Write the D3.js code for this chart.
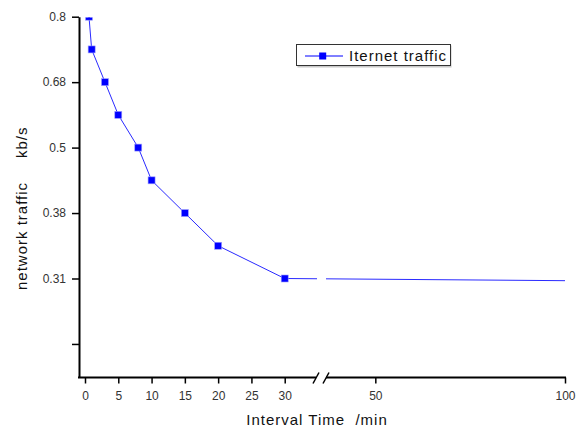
<!DOCTYPE html>
<html>
<head>
<meta charset="utf-8">
<script src="https://cdn.jsdelivr.net/npm/d3@7"></script>
<style>
  html, body { margin: 0; padding: 0; background: #fff; }
  svg { display: block; font-family: "Liberation Sans", Arial, sans-serif; }
</style>
</head>
<body>
<svg id="chart" width="582" height="430"></svg>
<script>
// ---- data ----
const intervals = [0.6, 1, 3, 5, 8, 10, 15, 20, 30];
const traffic   = [0.8, 0.74, 0.68, 0.59, 0.5, 0.44, 0.38, 0.345, 0.31];
const tailInterval = [30, 100];
const tailTraffic  = [0.31, 0.308];
const xTicksLeft  = [0, 5, 10, 15, 20, 25, 30];
const xTicksRight = [50, 100];
const yTickValues = [0.8, 0.68, 0.5, 0.38, 0.31, 0.25];
const yTickLabels = ["0.8", "0.68", "0.5", "0.38", "0.31", ""];
const seriesName = "Iternet traffic";
const xTitle = "Interval Time  /min";
const yTitleMain = "network traffic";
const yTitleUnit = "kb/s";

// ---- layout ----
const svg = d3.select("#chart");
const plotLeft = 79, plotTop = 16.7, plotBottom = 377.5, plotRight = 565;
const breakL = 316, breakR = 326;
const yStep = 65.45;

// broken x scale: [0,35] | [37,100]
const x = d3.scaleLinear()
  .domain([0, 35, 37, 100])
  .range([85, 318, 326, 565]);

// evenly spaced y ticks with non-linear labels
const yDomain = [0.22].concat(yTickValues.slice().reverse());
const yRange = [plotBottom].concat(yTickValues.map((d, i) => plotTop + i * yStep).reverse());
const y = d3.scaleLinear().domain(yDomain).range(yRange);

const blue = "#0000ff";

// clip paths
const defs = svg.append("defs");
defs.append("clipPath").attr("id", "clipLine")
  .call(c => {
    c.append("rect").attr("x", plotLeft).attr("y", plotTop + 0.5).attr("width", 317 - plotLeft).attr("height", plotBottom - plotTop);
    c.append("rect").attr("x", 326).attr("y", plotTop + 0.5).attr("width", plotRight - 326 + 5).attr("height", plotBottom - plotTop);
  });
defs.append("clipPath").attr("id", "clipPlot")
  .append("rect").attr("x", plotLeft).attr("y", plotTop + 0.8).attr("width", plotRight - plotLeft + 10).attr("height", plotBottom - plotTop);

// ---- line ----
const pts = intervals.map((d, i) => [d, traffic[i]]);
const tail = tailInterval.map((d, i) => [d, tailTraffic[i]]);
const line = d3.line().x(d => x(d[0])).y(d => y(d[1]));

svg.append("path")
  .datum(pts.concat(tail.slice(1)))
  .attr("clip-path", "url(#clipLine)")
  .attr("d", line)
  .attr("fill", "none")
  .attr("stroke", "#2a2aff")
  .attr("stroke-width", 1);

// markers
const ms = 7;
svg.append("g").attr("clip-path", "url(#clipPlot)")
  .selectAll("rect").data(pts).join("rect")
  .attr("x", d => x(d[0]) - ms / 2)
  .attr("y", d => y(d[1]) - ms / 2)
  .attr("width", ms).attr("height", ms)
  .attr("fill", blue)
  .attr("stroke", "#9f9fff").attr("stroke-width", 0.6);

// ---- y axis ----
const yAxis = d3.axisLeft(y)
  .tickValues(yTickValues)
  .tickFormat((d, i) => yTickLabels[i])
  .tickSize(7).tickSizeOuter(0).tickPadding(6);
const gy = svg.append("g").attr("transform", `translate(${plotLeft},0)`).call(yAxis);
gy.select(".domain").attr("stroke", "#000").attr("stroke-width", 2);
gy.selectAll(".tick line").attr("stroke", "#000").attr("stroke-width", 1.5);
gy.selectAll(".tick text").attr("font-size", 12).attr("fill", "#333")
  .attr("font-family", "Liberation Sans, Arial, sans-serif");

// ---- x axis (broken) ----
const xAxisL = d3.axisBottom(x).tickValues(xTicksLeft).tickSize(6).tickSizeOuter(0).tickPadding(8);
const xAxisR = d3.axisBottom(x).tickValues(xTicksRight).tickSize(6).tickSizeOuter(0).tickPadding(8);
const gxL = svg.append("g").attr("transform", `translate(0,${plotBottom})`).call(xAxisL);
const gxR = svg.append("g").attr("transform", `translate(0,${plotBottom})`).call(xAxisR);
[gxL, gxR].forEach(g => {
  g.select(".domain").remove();
  g.selectAll(".tick line").attr("stroke", "#000").attr("stroke-width", 1.5);
  g.selectAll(".tick text").attr("font-size", 12).attr("fill", "#333")
    .attr("font-family", "Liberation Sans, Arial, sans-serif");
});
const axisLines = [[plotLeft - 1, breakL], [breakR, plotRight + 1]];
svg.append("g").selectAll("line").data(axisLines).join("line")
  .attr("x1", d => d[0]).attr("x2", d => d[1])
  .attr("y1", plotBottom).attr("y2", plotBottom)
  .attr("stroke", "#000").attr("stroke-width", 2);
// break marks
svg.append("g").selectAll("line").data([breakL, breakR]).join("line")
  .attr("x1", d => d - 3).attr("y1", plotBottom + 6)
  .attr("x2", d => d + 3).attr("y2", plotBottom - 5)
  .attr("stroke", "#000").attr("stroke-width", 1.5);

// ---- axis titles ----
svg.append("text")
  .attr("x", 317).attr("y", 425)
  .attr("text-anchor", "middle")
  .attr("font-size", 15).attr("letter-spacing", 1)
  .attr("fill", "#111")
  .style("white-space", "pre")
  .text(xTitle);

svg.append("text")
  .attr("transform", "translate(27,290) rotate(-90)")
  .attr("text-anchor", "start")
  .attr("font-size", 15).attr("letter-spacing", 1)
  .attr("fill", "#111")
  .text(yTitleMain);
svg.append("text")
  .attr("transform", "translate(27,158) rotate(-90)")
  .attr("text-anchor", "start")
  .attr("font-size", 15).attr("letter-spacing", 1)
  .attr("fill", "#111")
  .text(yTitleUnit);

// ---- legend ----
const lg = svg.append("g");
lg.append("rect").attr("x", 297.5).attr("y", 45.5).attr("width", 154).attr("height", 22)
  .attr("fill", "#c8c8c8");
lg.append("rect").attr("x", 296.5).attr("y", 44.5).attr("width", 154).attr("height", 21)
  .attr("fill", "#fff").attr("stroke", "#333").attr("stroke-width", 1);
lg.append("line").attr("x1", 305).attr("x2", 343).attr("y1", 56).attr("y2", 56)
  .attr("stroke", blue).attr("stroke-width", 1);
lg.append("rect").attr("x", 322.7 - 3.5).attr("y", 56 - 3.5).attr("width", 7).attr("height", 7)
  .attr("fill", blue);
lg.append("text").attr("x", 349).attr("y", 61)
  .attr("font-size", 15).attr("letter-spacing", 1).attr("fill", "#111")
  .text(seriesName);
</script>
</body>
</html>
